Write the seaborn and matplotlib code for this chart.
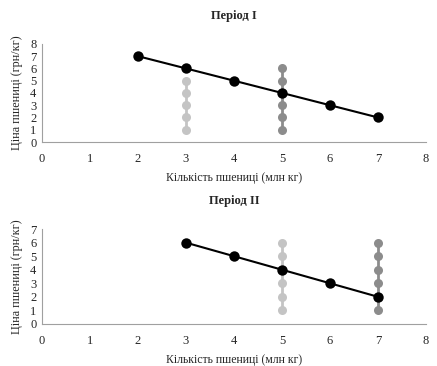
import matplotlib
matplotlib.use('Agg')
import matplotlib.pyplot as plt
import seaborn as sns

# Період I
p1_demand_q = [2, 3, 4, 5, 6, 7]
p1_demand_p = [7, 6, 5, 4, 3, 2]
p1_light_q = [3, 3, 3, 3, 3]
p1_light_p = [1, 2, 3, 4, 5]
p1_dark_q = [5, 5, 5, 5, 5, 5]
p1_dark_p = [1, 2, 3, 4, 5, 6]

# Період II
p2_demand_q = [3, 4, 5, 6, 7]
p2_demand_p = [6, 5, 4, 3, 2]
p2_light_q = [5, 5, 5, 5, 5, 5]
p2_light_p = [1, 2, 3, 4, 5, 6]
p2_dark_q = [7, 7, 7, 7, 7, 7]
p2_dark_p = [1, 2, 3, 4, 5, 6]

x_ticks = [0, 1, 2, 3, 4, 5, 6, 7, 8]

sns.set_style('white')
plt.rcParams['font.family'] = ['Liberation Serif', 'DejaVu Serif']

fig = plt.figure(figsize=(4.37, 3.66), dpi=100)
ax1 = fig.add_axes([0.096, 0.612, 0.879, 0.268])
ax2 = fig.add_axes([0.096, 0.115, 0.879, 0.259])


def draw(ax, light_q, light_p, dark_q, dark_p, dq, dp, ymax, title):
    sns.lineplot(x=light_q, y=light_p, ax=ax, color='#c4c4c4', marker='o',
                 markersize=6.5, markeredgewidth=0, linewidth=2, sort=False,
                 estimator=None)
    sns.lineplot(x=dark_q, y=dark_p, ax=ax, color='#8c8c8c', marker='o',
                 markersize=6.5, markeredgewidth=0, linewidth=2, sort=False,
                 estimator=None)
    sns.lineplot(x=dq, y=dp, ax=ax, color='black', marker='o',
                 markersize=7.5, markeredgewidth=0, linewidth=1.5, sort=False,
                 estimator=None)
    ax.set_xlim(0, 8)
    ax.set_ylim(0, ymax)
    ax.set_xticks(x_ticks)
    ax.set_yticks(range(0, ymax + 1))
    for s in ['top', 'right']:
        ax.spines[s].set_visible(False)
    for s in ['left', 'bottom']:
        ax.spines[s].set_color('#a0a0a0')
        ax.spines[s].set_linewidth(0.8)
    ax.tick_params(axis='both', which='both', direction='out', length=3,
                   width=0.8, color='#a0a0a0', labelsize=9, pad=1)
    ax.tick_params(axis='x', pad=5)
    ax.set_xlabel('Кількість пшениці (млн кг)', fontsize=8.5, labelpad=5)
    ax.set_ylabel('Ціна пшениці (грн/кг)', fontsize=8.7, labelpad=5)
    ax.set_title(title, fontsize=9, fontweight='bold', pad=18)


draw(ax1, p1_light_q, p1_light_p, p1_dark_q, p1_dark_p,
     p1_demand_q, p1_demand_p, 8, 'Період I')
draw(ax2, p2_light_q, p2_light_p, p2_dark_q, p2_dark_p,
     p2_demand_q, p2_demand_p, 7, 'Період II')

fig.savefig('out.png', dpi=100)
